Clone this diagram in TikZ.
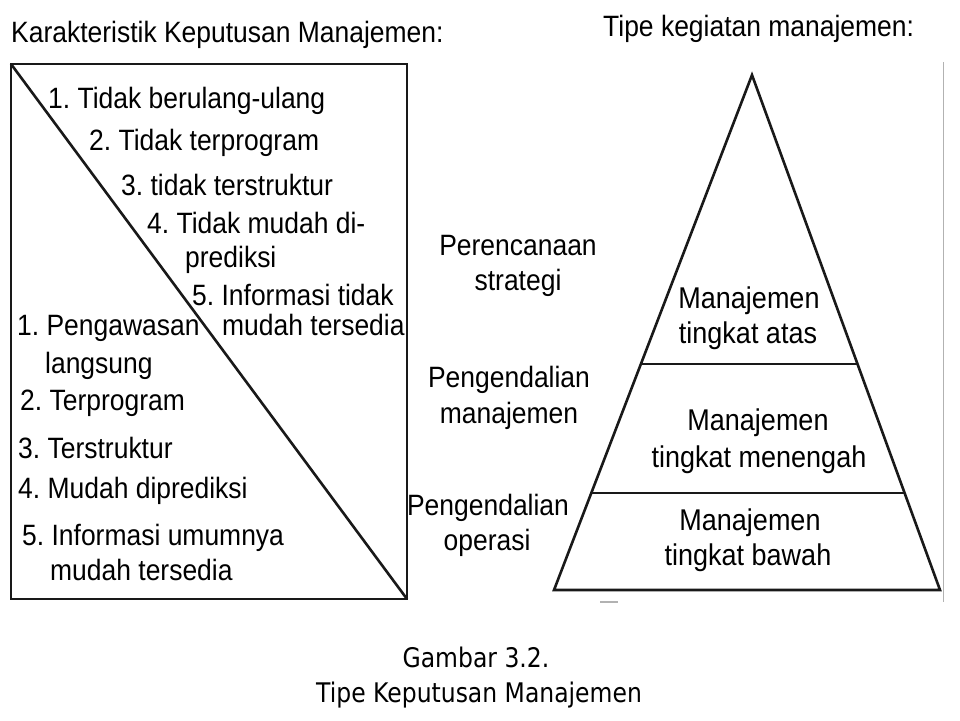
\documentclass[tikz,border=0pt]{standalone}
\usepackage{fontspec}
\setmainfont{Liberation Sans}[FakeStretch=0.9]
\newfontfamily\capfont[FakeStretch=0.87]{DejaVu Sans}
\usetikzlibrary{calc}
\frenchspacing
\begin{document}
\begin{tikzpicture}[x=1pt,y=-1pt,
  txt/.style={font=\fontsize{29.4}{32}\selectfont, inner sep=0pt, anchor=base west},
  ptxt/.style={font=\fontsize{30}{32}\selectfont, inner sep=0pt, anchor=base},
  ltxt/.style={font=\fontsize{29.4}{32}\selectfont, inner sep=0pt, anchor=base},
  captxt/.style={font=\capfont\fontsize{27}{30}\selectfont, inner sep=0pt, anchor=base},
  edge/.style={draw=black!90, line width=2.6pt, line join=miter},
  scan/.style={draw=black!30, line width=1pt}]
\useasboundingbox (0,0) rectangle (960,720);
\fill[white] (0,0) rectangle (960,720);

% titles
\node[txt] (tleft) at (11,42) {Karakteristik Keputusan Manajemen:};
\node[txt] (tright) at (603,36) {Tipe kegiatan manajemen:};

% left box with diagonal
\coordinate (bTL) at (11,64);
\coordinate (bBR) at (407,599);
\draw[edge] (bTL) rectangle (bBR);
\draw[edge] (bTL) -- (bBR);

% upper-right characteristics
\node[txt] (u1) at (48,108) {1. Tidak berulang-ulang};
\node[txt] (u2) at (89,150) {2. Tidak terprogram};
\node[txt] (u3) at (121,195) {3. tidak terstruktur};
\node[txt] (u4) at (147,233) {4. Tidak mudah di-};
\node[txt] (u4b) at (185,267) {prediksi};
\node[txt] (u5) at (192,305) {5. Informasi tidak};
\node[txt] (u5b) at (222,335) {mudah tersedia};

% lower-left characteristics
\node[txt] (l1) at (17,335) {1. Pengawasan};
\node[txt] (l1b) at (45,373) {langsung};
\node[txt] (l2) at (20,410) {2. Terprogram};
\node[txt] (l3) at (18,458) {3. Terstruktur};
\node[txt] (l4) at (18,498) {4. Mudah diprediksi};
\node[txt] (l5) at (22,545) {5. Informasi umumnya};
\node[txt] (l5b) at (50,580) {mudah tersedia};

% pyramid
\coordinate (apex) at (752,75);
\coordinate (pBL) at (554,590);
\coordinate (pBR) at (940,590);
\coordinate (d1L) at ($(apex)!0.5612!(pBL)$);
\coordinate (d1R) at ($(apex)!0.5612!(pBR)$);
\coordinate (d2L) at ($(apex)!0.8117!(pBL)$);
\coordinate (d2R) at ($(apex)!0.8117!(pBR)$);
\draw[edge] (apex) -- (pBL) -- (pBR) -- cycle;
\draw[edge] (d1L) -- (d1R);
\draw[edge] (d2L) -- (d2R);

% pyramid labels
\node[ptxt] (p1a) at (749,308) {Manajemen};
\node[ptxt] (p1b) at (748,343) {tingkat atas};
\node[ptxt] (p2a) at (758,430) {Manajemen};
\node[ptxt] (p2b) at (759,467) {tingkat menengah};
\node[ptxt] (p3a) at (750,530) {Manajemen};
\node[ptxt] (p3b) at (748,565) {tingkat bawah};

% activity labels
\node[ltxt] (a1a) at (518,255) {Perencanaan};
\node[ltxt] (a1b) at (518,290) {strategi};
\node[ltxt] (a2a) at (509,387) {Pengendalian};
\node[ltxt] (a2b) at (509,423) {manajemen};
\node[ltxt] (a3a) at (488,515) {Pengendalian};
\node[ltxt] (a3b) at (487,550) {operasi};

% scan remnants
\draw[scan] (943,62) -- (943,602);
\draw[scan, line width=2pt] (600,602) -- (618,602);

% caption
\node[captxt] (c1) at (476,667) {Gambar 3.2.};
\node[captxt] (c2) at (479,702) {Tipe Keputusan Manajemen};
\end{tikzpicture}
\end{document}
